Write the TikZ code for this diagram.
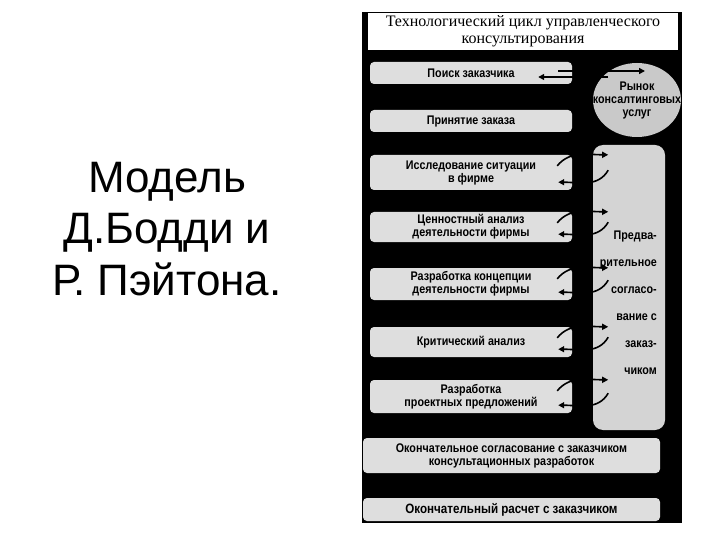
\documentclass[tikz,border=0pt]{standalone}
\usepackage{fontspec}
\setmainfont{Liberation Sans}
\newfontfamily\titlefont{Liberation Serif}
\newfontfamily\boxfont[FakeStretch=0.86]{Liberation Sans}
\usetikzlibrary{shapes.geometric,arrows.meta}
\definecolor{boxgray}{gray}{0.87}
\definecolor{sidegray}{gray}{0.83}
\definecolor{marketgray}{gray}{0.79}

\begin{document}
\begin{tikzpicture}[x=1pt,y=-1pt,
  stage/.style={fill=boxgray, rounded corners=4pt, inner sep=0pt, align=center,
    minimum width=202pt, font=\boxfont\fontsize{12.5}{13}\selectfont\bfseries},
  wide/.style={stage, minimum width=297pt},
  flow/.style={-{Triangle[length=6pt,width=6pt]}, line width=1.6pt, black},
  side/.style={font=\boxfont\fontsize{12.5}{13}\selectfont\bfseries, inner sep=0pt}]
  \useasboundingbox (0,0) rectangle (720,540);
  % caption on the left
  \node [align=center, font=\fontsize{44}{51.5}\selectfont] (caption) at (167,229) {Модель\\Д.Бодди и\\Р. Пэйтона.};
  % black panel with the title
  \fill [black] (362,12) rectangle (682,523);
  \node [fill=white, minimum width=310pt, minimum height=37pt, inner sep=0pt, align=center,
    font=\titlefont\fontsize{16}{16.5}\selectfont] (title) at (523,31.5) {Технологический цикл управленческого\\консультирования};
  % stages
  \node [stage, minimum height=22pt] (poisk) at (471,73) {Поиск заказчика};
  \node [stage, minimum height=22pt] (priem) at (471,121) {Принятие заказа};
  \node [stage, minimum height=35pt] (issl) at (471,172.5) {Исследование ситуации\\в фирме};
  \node [stage, minimum height=30pt] (cenn) at (471,227) {Ценностный анализ\\деятельности фирмы};
  \node [stage, minimum height=32pt] (konc) at (471,284) {Разработка концепции\\деятельности фирмы};
  \node [stage, minimum height=30pt] (krit) at (471,342) {Критический анализ};
  \node [stage, minimum height=33pt] (proekt) at (471,396.5) {Разработка\\проектных предложений};
  \node [wide, minimum height=35pt] (sogl) at (511.5,455.5) {Окончательное согласование с заказчиком\\консультационных разработок};
  \node [wide, minimum height=23pt, font=\boxfont\fontsize{13.5}{14}\selectfont\bfseries] (raschet) at (511.5,509.5) {Окончательный расчет с заказчиком};
  % market and agreement
  \node [ellipse, fill=marketgray, minimum width=88pt, minimum height=74pt, inner sep=0pt] (rynok) at (637,100) {};
  \node [side, align=center] (rynoktext) at (rynok.center) {Рынок\\консалтинговых\\услуг};
  \node [fill=sidegray, rounded corners=10pt, minimum width=72pt, minimum height=285pt] (predv) at (629,287.5) {};
  \node [side, align=right, anchor=north east, font=\boxfont\fontsize{12.5}{27}\selectfont\bfseries] (predvtext) at (657,231) {Предва-\\рительное\\согласо-\\вание с\\заказ-\\чиком};
  % arrows
  \draw [flow] ([xshift=-14pt,yshift=2pt]poisk.east) -- ([xshift=8pt,yshift=29pt]rynok.center);
  \draw [flow] ([xshift=-29pt,yshift=23pt]rynok.center) -- ([xshift=-34pt,yshift=-4pt]poisk.east);
  \foreach \b in {issl,cenn,konc,krit,proekt} {
    \draw [flow] ([xshift=-15pt,yshift=-11pt]\b.north east) to [out=50,in=180] ([xshift=36pt]\b.north east);
    \draw [flow] ([xshift=36pt,yshift=20pt]\b.south east) to [out=-120,in=0] ([xshift=-14pt,yshift=8pt]\b.south east);
  }
\end{tikzpicture}
\end{document}
